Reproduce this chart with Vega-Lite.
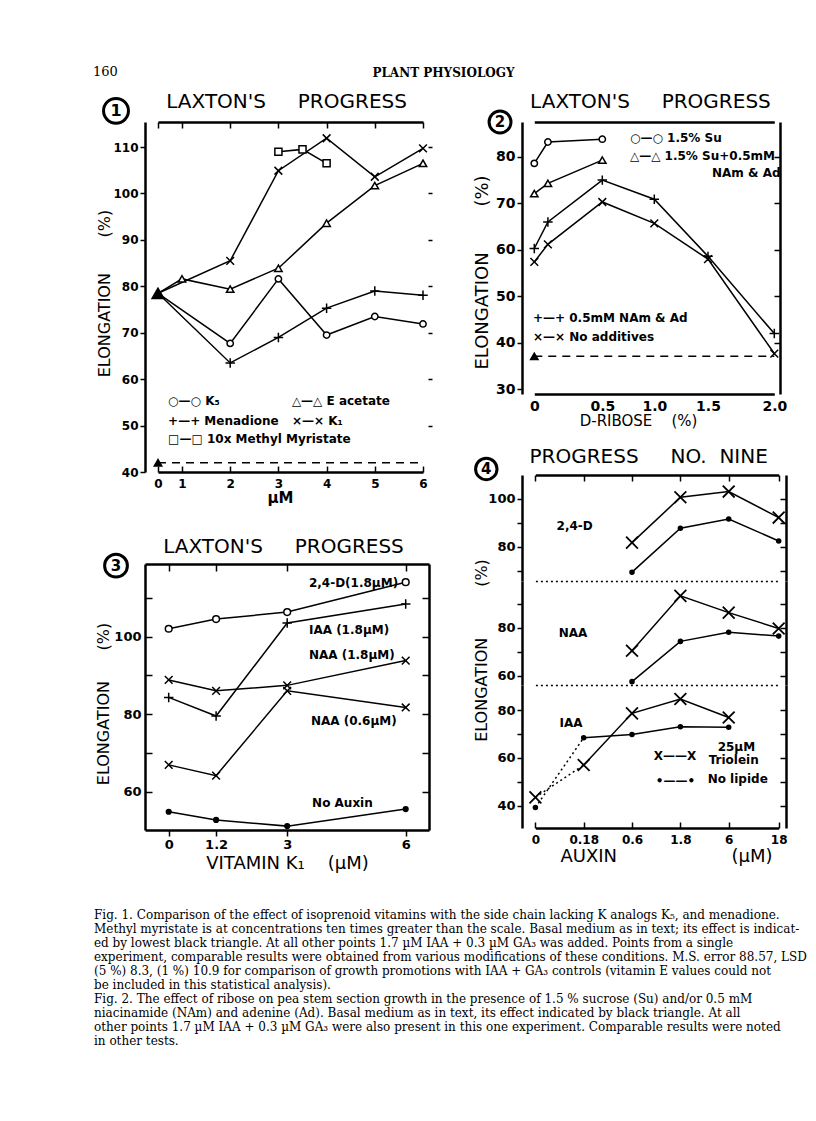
{
  "$schema": "https://vega.github.io/schema/vega-lite/v6.json",
  "autosize": {"type": "none"},
  "padding": {"left": 145, "top": 118, "right": 671, "bottom": 1003},
  "background": "white",
  "config": {
    "font": "DejaVu Sans",
    "view": {"stroke": null},
    "axis": {"grid": false, "labelFlush": false, "labelOverlap": false, "domainColor": "black", "domainWidth": 2.5, "tickColor": "black", "tickWidth": 1.5, "labelColor": "black", "labelFont": "DejaVu Sans", "labelFontWeight": "bold", "labelFontSize": 12, "labelPadding": 2, "titleColor": "black", "titleFont": "DejaVu Sans", "titleFontWeight": "normal", "titleFontSize": 16},
    "title": {"color": "black", "font": "DejaVu Sans"},
    "text": {"color": "black"},
    "point": {"opacity": 1}
  },
  "datasets": {
    "p1": [
      {"series": "K5", "x": 0, "y": 78.5}, {"series": "K5", "x": 2, "y": 67.7}, {"series": "K5", "x": 3, "y": 81.6}, {"series": "K5", "x": 4, "y": 69.5}, {"series": "K5", "x": 5, "y": 73.5}, {"series": "K5", "x": 6, "y": 71.9},
      {"series": "Menadione", "x": 0, "y": 78.5}, {"series": "Menadione", "x": 2, "y": 63.5}, {"series": "Menadione", "x": 3, "y": 69.0}, {"series": "Menadione", "x": 4, "y": 75.3}, {"series": "Menadione", "x": 5, "y": 79.0}, {"series": "Menadione", "x": 6, "y": 78.1},
      {"series": "E acetate", "x": 0, "y": 78.5}, {"series": "E acetate", "x": 1, "y": 81.6}, {"series": "E acetate", "x": 2, "y": 79.4}, {"series": "E acetate", "x": 3, "y": 83.9}, {"series": "E acetate", "x": 4, "y": 93.6}, {"series": "E acetate", "x": 5, "y": 101.7}, {"series": "E acetate", "x": 6, "y": 106.5},
      {"series": "K1", "x": 0, "y": 78.5}, {"series": "K1", "x": 2, "y": 85.5}, {"series": "K1", "x": 3, "y": 104.9}, {"series": "K1", "x": 4, "y": 111.9}, {"series": "K1", "x": 5, "y": 103.6}, {"series": "K1", "x": 6, "y": 109.7},
      {"series": "10x Methyl Myristate", "x": 3, "y": 109.0}, {"series": "10x Methyl Myristate", "x": 3.5, "y": 109.5}, {"series": "10x Methyl Myristate", "x": 4, "y": 106.5},
      {"series": "IAA + GA3 control", "x": 0, "y": 78.5},
      {"series": "Basal medium", "x": 0, "y": 42.0}
    ],
    "p2": [
      {"series": "1.5% Su", "x": 0, "y": 78.6}, {"series": "1.5% Su", "x": 0.1, "y": 83.2}, {"series": "1.5% Su", "x": 0.5, "y": 83.8},
      {"series": "1.5% Su + 0.5mM NAm & Ad", "x": 0, "y": 72.1}, {"series": "1.5% Su + 0.5mM NAm & Ad", "x": 0.1, "y": 74.3}, {"series": "1.5% Su + 0.5mM NAm & Ad", "x": 0.5, "y": 79.3},
      {"series": "0.5mM NAm & Ad", "x": 0, "y": 60.3}, {"series": "0.5mM NAm & Ad", "x": 0.1, "y": 66.0}, {"series": "0.5mM NAm & Ad", "x": 0.5, "y": 75.0}, {"series": "0.5mM NAm & Ad", "x": 1.0, "y": 70.9}, {"series": "0.5mM NAm & Ad", "x": 1.5, "y": 58.6}, {"series": "0.5mM NAm & Ad", "x": 2.0, "y": 42.0},
      {"series": "No additives", "x": 0, "y": 57.4}, {"series": "No additives", "x": 0.1, "y": 61.2}, {"series": "No additives", "x": 0.5, "y": 70.3}, {"series": "No additives", "x": 1.0, "y": 65.7}, {"series": "No additives", "x": 1.5, "y": 58.0}, {"series": "No additives", "x": 2.0, "y": 37.7},
      {"series": "Basal medium", "x": 0, "y": 37.1}
    ],
    "p3": [
      {"series": "2,4-D (1.8 µM)", "x": 0, "y": 102.0}, {"series": "2,4-D (1.8 µM)", "x": 1.2, "y": 104.5}, {"series": "2,4-D (1.8 µM)", "x": 3, "y": 106.3}, {"series": "2,4-D (1.8 µM)", "x": 6, "y": 114.0},
      {"series": "IAA (1.8 µM)", "x": 0, "y": 84.3}, {"series": "IAA (1.8 µM)", "x": 1.2, "y": 79.5}, {"series": "IAA (1.8 µM)", "x": 3, "y": 103.5}, {"series": "IAA (1.8 µM)", "x": 6, "y": 108.4},
      {"series": "NAA (1.8 µM)", "x": 0, "y": 88.8}, {"series": "NAA (1.8 µM)", "x": 1.2, "y": 86.0}, {"series": "NAA (1.8 µM)", "x": 3, "y": 87.4}, {"series": "NAA (1.8 µM)", "x": 6, "y": 93.8},
      {"series": "NAA (0.6 µM)", "x": 0, "y": 66.9}, {"series": "NAA (0.6 µM)", "x": 1.2, "y": 64.1}, {"series": "NAA (0.6 µM)", "x": 3, "y": 86.0}, {"series": "NAA (0.6 µM)", "x": 6, "y": 81.7},
      {"series": "No auxin", "x": 0, "y": 54.8}, {"series": "No auxin", "x": 1.2, "y": 52.7}, {"series": "No auxin", "x": 3, "y": 51.1}, {"series": "No auxin", "x": 6, "y": 55.5}
    ],
    "p4": [
      {"section": "2,4-D", "series": "25 µM triolein", "x": 0.6, "y": 81.7}, {"section": "2,4-D", "series": "25 µM triolein", "x": 1.8, "y": 100.7}, {"section": "2,4-D", "series": "25 µM triolein", "x": 6, "y": 103.1}, {"section": "2,4-D", "series": "25 µM triolein", "x": 18, "y": 92.2},
      {"section": "2,4-D", "series": "No lipide", "x": 0.6, "y": 69.3}, {"section": "2,4-D", "series": "No lipide", "x": 1.8, "y": 87.7}, {"section": "2,4-D", "series": "No lipide", "x": 6, "y": 91.6}, {"section": "2,4-D", "series": "No lipide", "x": 18, "y": 82.4},
      {"section": "NAA", "series": "25 µM triolein", "x": 0.6, "y": 70.4}, {"section": "NAA", "series": "25 µM triolein", "x": 1.8, "y": 93.3}, {"section": "NAA", "series": "25 µM triolein", "x": 6, "y": 86.3}, {"section": "NAA", "series": "25 µM triolein", "x": 18, "y": 79.7},
      {"section": "NAA", "series": "No lipide", "x": 0.6, "y": 57.5}, {"section": "NAA", "series": "No lipide", "x": 1.8, "y": 74.3}, {"section": "NAA", "series": "No lipide", "x": 6, "y": 78.1}, {"section": "NAA", "series": "No lipide", "x": 18, "y": 76.5},
      {"section": "IAA", "series": "25 µM triolein", "x": 0, "y": 43.5}, {"section": "IAA", "series": "25 µM triolein", "x": 0.18, "y": 57.0}, {"section": "IAA", "series": "25 µM triolein", "x": 0.6, "y": 78.6}, {"section": "IAA", "series": "25 µM triolein", "x": 1.8, "y": 84.6}, {"section": "IAA", "series": "25 µM triolein", "x": 6, "y": 76.9},
      {"section": "IAA", "series": "No lipide", "x": 0, "y": 39.3}, {"section": "IAA", "series": "No lipide", "x": 0.18, "y": 68.4}, {"section": "IAA", "series": "No lipide", "x": 0.6, "y": 69.8}, {"section": "IAA", "series": "No lipide", "x": 1.8, "y": 73.0}, {"section": "IAA", "series": "No lipide", "x": 6, "y": 72.8}
    ],
    "notes": [
      {"panel": "1", "text": "○—○ K₅", "x": 0.42, "y": 55.3},
      {"panel": "1", "text": "△—△ E acetate", "x": 3.28, "y": 55.3},
      {"panel": "1", "text": "+—+ Menadione", "x": 0.42, "y": 51.0},
      {"panel": "1", "text": "×—× K₁", "x": 3.28, "y": 51.0},
      {"panel": "1", "text": "□—□ 10x Methyl Myristate", "x": 0.42, "y": 47.1},
      {"panel": "2", "text": "○—○ 1.5% Su", "x": 0.766, "y": 84.0},
      {"panel": "2", "text": "△—△ 1.5% Su+0.5mM", "x": 0.766, "y": 80.15},
      {"panel": "2", "text": "NAm & Ad", "x": 1.53, "y": 76.5},
      {"panel": "2", "text": "+—+ 0.5mM NAm & Ad", "x": -0.01, "y": 45.3},
      {"panel": "2", "text": "×—× No additives", "x": -0.01, "y": 41.2},
      {"panel": "3", "text": "2,4-D(1.8µM)", "x": 3.55, "y": 113.8},
      {"panel": "3", "text": "IAA (1.8µM)", "x": 3.55, "y": 101.7},
      {"panel": "3", "text": "NAA (1.8µM)", "x": 3.55, "y": 95.3},
      {"panel": "3", "text": "NAA (0.6µM)", "x": 3.6, "y": 78.3},
      {"panel": "3", "text": "No Auxin", "x": 3.63, "y": 57.1},
      {"panel": "4a", "text": "2,4-D", "x": 0.079, "y": 88.7},
      {"panel": "4b", "text": "NAA", "x": 0.087, "y": 77.8},
      {"panel": "4c", "text": "IAA", "x": 0.09, "y": 74.6},
      {"panel": "4c", "text": "X——X", "x": 1.138, "y": 60.8},
      {"panel": "4c", "text": "25µM", "x": 5.04, "y": 64.5},
      {"panel": "4c", "text": "Triolein", "x": 4.26, "y": 59.1},
      {"panel": "4c", "text": "•——•", "x": 1.19, "y": 50.4},
      {"panel": "4c", "text": "No lipide", "x": 4.17, "y": 51.2}
    ],
    "titles": [
      {"panel": "1", "text": "LAXTON'S\u00a0\u00a0\u00a0\u00a0\u00a0PROGRESS", "x": 3.17, "y": 119.7},
      {"panel": "2", "text": "LAXTON'S\u00a0\u00a0\u00a0\u00a0\u00a0PROGRESS", "x": 0.963, "y": 91.8},
      {"panel": "3", "text": "LAXTON'S\u00a0\u00a0\u00a0\u00a0\u00a0PROGRESS", "x": 2.906, "y": 123.1},
      {"panel": "4a", "text": "PROGRESS\u00a0\u00a0\u00a0\u00a0\u00a0NO.\u00a0\u00a0NINE", "x": 1.014, "y": 117.6}
    ],
    "nums": [
      {"panel": "1", "label": "1", "x": -1.75, "y": 117.8},
      {"panel": "2", "label": "2", "x": -0.252, "y": 87.5},
      {"panel": "3", "label": "3", "x": -1.334, "y": 118.26},
      {"panel": "4a", "label": "4", "x": -0.183, "y": 112.6}
    ]
  },
  "columns": 2,
  "align": "each",
  "bounds": "flush",
  "spacing": {"row": 3, "column": 93},
  "resolve": {"scale": {"shape": "independent", "size": "independent", "fill": "independent"}},
  "concat": [
    {
      "width": 1, "height": 1,
      "data": {"values": []},
      "mark": "point",
      "title": {"text": "160", "orient": "top", "anchor": "start", "align": "left", "dx": -52, "offset": 33, "baseline": "middle", "font": "DejaVu Serif", "fontSize": 13, "fontWeight": "normal"}
    },
    {
      "width": 2, "height": 1,
      "data": {"values": []},
      "mark": "point",
      "title": {"text": "PLANT PHYSIOLOGY", "orient": "top", "anchor": "middle", "align": "center", "dx": -79.5, "offset": 33, "baseline": "middle", "font": "DejaVu Serif", "fontSize": 12, "fontWeight": "bold"}
    },
    {
      "width": 283, "height": 350,
      "layer": [
        {
          "data": {"name": "p1"},
          "transform": [{"filter": "datum.series != 'IAA + GA3 control' && datum.series != 'Basal medium'"}],
          "mark": {"type": "line", "color": "black", "strokeWidth": 1.5},
          "encoding": {
            "x": {"field": "x", "type": "quantitative", "scale": {"domain": [0, 1, 6], "range": [13, 37, 278], "nice": false, "zero": false},
                  "axis": {"orient": "bottom", "values": [0, 1, 2, 3, 4, 5, 6], "tickSize": -6, "labelPadding": 12, "title": "µM", "titleFontSize": 15, "titleFontWeight": "bold", "titlePadding": 1, "titleX": 135}},
            "y": {"field": "y", "type": "quantitative", "scale": {"domain": [40, 115.4], "nice": false, "zero": false},
                  "axis": {"orient": "left", "values": [40, 50, 60, 70, 80, 90, 100, 110], "tickSize": 5, "title": "ELONGATION\u00a0\u00a0\u00a0\u00a0\u00a0\u00a0\u00a0(%)", "titlePadding": 0, "titleY": 171}},
            "detail": {"field": "series"}
          }
        },
        {
          "data": {"name": "p1"},
          "transform": [{"filter": "datum.x > 0 || datum.series == 'IAA + GA3 control' || datum.series == 'Basal medium'"}],
          "mark": {"type": "point", "stroke": "black", "strokeWidth": 1.5, "opacity": 1},
          "encoding": {
            "x": {"field": "x", "type": "quantitative", "axis": {"orient": "top", "values": [0, 1, 2, 3, 4, 5, 6], "tickSize": -6, "labels": false, "title": null}},
            "y": {"field": "y", "type": "quantitative", "axis": {"orient": "right", "values": [50, 60, 70, 80, 90, 100, 110], "tickSize": 4, "labels": false, "title": null, "domain": false}},
            "shape": {"field": "series", "type": "nominal", "legend": null, "scale": {"domain": ["K5", "Menadione", "E acetate", "K1", "10x Methyl Myristate", "IAA + GA3 control", "Basal medium"], "range": ["circle", "M-1,0L1,0M0,-1L0,1", "triangle-up", "M-1,-1L1,1M-1,1L1,-1", "square", "triangle-up", "triangle-up"]}},
            "size": {"field": "series", "type": "nominal", "legend": null, "scale": {"type": "ordinal", "domain": ["K5", "Menadione", "E acetate", "K1", "10x Methyl Myristate", "IAA + GA3 control", "Basal medium"], "range": [40, 90, 55, 60, 50, 140, 55]}},
            "fill": {"field": "series", "type": "nominal", "legend": null, "scale": {"domain": ["K5", "Menadione", "E acetate", "K1", "10x Methyl Myristate", "IAA + GA3 control", "Basal medium"], "range": ["white", "white", "white", "white", "white", "black", "black"]}}
          }
        },
        {
          "data": {"name": "p1"},
          "transform": [{"filter": "datum.series == 'Basal medium'"}],
          "mark": {"type": "rule", "color": "black", "strokeWidth": 1.5, "strokeDash": [8, 6]},
          "encoding": {"x": {"field": "x", "type": "quantitative", "axis": null}, "x2": {"datum": 6}, "y": {"field": "y", "type": "quantitative", "axis": null}}
        },
        {
          "data": {"name": "notes"},
          "transform": [{"filter": "datum.panel == '1'"}],
          "mark": {"type": "text", "align": "left", "baseline": "middle", "fontSize": 12, "fontWeight": "bold"},
          "encoding": {"x": {"field": "x", "type": "quantitative", "axis": null}, "y": {"field": "y", "type": "quantitative", "axis": null}, "text": {"field": "text"}}
        },
        {
          "data": {"name": "titles"},
          "transform": [{"filter": "datum.panel == '1'"}],
          "mark": {"type": "text", "align": "center", "baseline": "middle", "fontSize": 20},
          "encoding": {"x": {"field": "x", "type": "quantitative", "axis": null}, "y": {"field": "y", "type": "quantitative", "axis": null}, "text": {"field": "text"}}
        },
        {
          "data": {"name": "nums"},
          "transform": [{"filter": "datum.panel == '1'"}],
          "mark": {"type": "point", "shape": "circle", "size": 620, "stroke": "black", "strokeWidth": 3, "fill": "white", "opacity": 1},
          "encoding": {"x": {"field": "x", "type": "quantitative", "axis": null}, "y": {"field": "y", "type": "quantitative", "axis": null}}
        },
        {
          "data": {"name": "nums"},
          "transform": [{"filter": "datum.panel == '1'"}],
          "mark": {"type": "text", "align": "center", "baseline": "middle", "fontSize": 16, "fontWeight": "bold"},
          "encoding": {"x": {"field": "x", "type": "quantitative", "axis": null}, "y": {"field": "y", "type": "quantitative", "axis": null}, "text": {"field": "label"}}
        }
      ],
      "resolve": {"axis": {"x": "independent", "y": "independent"}}
    },
    {
      "width": 258, "height": 272,
      "layer": [
        {
          "data": {"name": "p2"},
          "transform": [{"filter": "datum.series != 'Basal medium'"}],
          "mark": {"type": "line", "color": "black", "strokeWidth": 1.5},
          "encoding": {
            "x": {"field": "x", "type": "quantitative", "scale": {"domain": [0, 0.5, 1, 1.5, 2], "range": [12.3, 80.3, 132.3, 186, 252.3], "nice": false, "zero": false},
                  "axis": {"orient": "bottom", "values": [0, 0.5, 1, 1.5, 2], "labelExpr": "datum.value == 0 ? '0' : format(datum.value, '.1f')", "ticks": false, "labelPadding": 5, "labelFontSize": 14, "title": "D-RIBOSE\u00a0\u00a0\u00a0\u00a0(%)", "titleFontSize": 15, "titlePadding": 0, "titleX": 116}},
            "y": {"field": "y", "type": "quantitative", "scale": {"domain": [29, 87.5], "nice": false, "zero": false},
                  "axis": {"orient": "left", "values": [30, 40, 50, 60, 70, 80], "tickSize": 5, "labelFontSize": 14, "title": "ELONGATION\u00a0\u00a0\u00a0\u00a0\u00a0\u00a0\u00a0\u00a0(%)", "titleFontSize": 18, "titlePadding": 4, "titleY": 150}},
            "detail": {"field": "series"}
          }
        },
        {
          "data": {"name": "p2"},
          "mark": {"type": "point", "stroke": "black", "strokeWidth": 1.5, "opacity": 1},
          "encoding": {
            "x": {"field": "x", "type": "quantitative", "axis": {"orient": "top", "ticks": false, "labels": false, "title": null}},
            "y": {"field": "y", "type": "quantitative", "axis": {"orient": "right", "values": [40, 50, 60, 70, 80], "tickSize": -6, "labels": false, "title": null}},
            "shape": {"field": "series", "type": "nominal", "legend": null, "scale": {"domain": ["1.5% Su", "1.5% Su + 0.5mM NAm & Ad", "0.5mM NAm & Ad", "No additives", "Basal medium"], "range": ["circle", "triangle-up", "M-1,0L1,0M0,-1L0,1", "M-1,-1L1,1M-1,1L1,-1", "triangle-up"]}},
            "size": {"field": "series", "type": "nominal", "legend": null, "scale": {"type": "ordinal", "domain": ["1.5% Su", "1.5% Su + 0.5mM NAm & Ad", "0.5mM NAm & Ad", "No additives", "Basal medium"], "range": [40, 55, 90, 60, 55]}},
            "fill": {"field": "series", "type": "nominal", "legend": null, "scale": {"domain": ["1.5% Su", "1.5% Su + 0.5mM NAm & Ad", "0.5mM NAm & Ad", "No additives", "Basal medium"], "range": ["white", "white", "white", "white", "black"]}}
          }
        },
        {
          "data": {"name": "p2"},
          "transform": [{"filter": "datum.series == 'Basal medium'"}],
          "mark": {"type": "rule", "color": "black", "strokeWidth": 1.5, "strokeDash": [8, 6]},
          "encoding": {"x": {"field": "x", "type": "quantitative", "axis": null}, "x2": {"datum": 2}, "y": {"field": "y", "type": "quantitative", "axis": null}}
        },
        {
          "data": {"name": "notes"},
          "transform": [{"filter": "datum.panel == '2'"}],
          "mark": {"type": "text", "align": "left", "baseline": "middle", "fontSize": 12, "fontWeight": "bold"},
          "encoding": {"x": {"field": "x", "type": "quantitative", "axis": null}, "y": {"field": "y", "type": "quantitative", "axis": null}, "text": {"field": "text"}}
        },
        {
          "data": {"name": "titles"},
          "transform": [{"filter": "datum.panel == '2'"}],
          "mark": {"type": "text", "align": "center", "baseline": "middle", "fontSize": 20},
          "encoding": {"x": {"field": "x", "type": "quantitative", "axis": null}, "y": {"field": "y", "type": "quantitative", "axis": null}, "text": {"field": "text"}}
        },
        {
          "data": {"name": "nums"},
          "transform": [{"filter": "datum.panel == '2'"}],
          "mark": {"type": "point", "shape": "circle", "size": 480, "stroke": "black", "strokeWidth": 3, "fill": "white", "opacity": 1},
          "encoding": {"x": {"field": "x", "type": "quantitative", "axis": null}, "y": {"field": "y", "type": "quantitative", "axis": null}}
        },
        {
          "data": {"name": "nums"},
          "transform": [{"filter": "datum.panel == '2'"}],
          "mark": {"type": "text", "align": "center", "baseline": "middle", "fontSize": 15, "fontWeight": "bold"},
          "encoding": {"x": {"field": "x", "type": "quantitative", "axis": null}, "y": {"field": "y", "type": "quantitative", "axis": null}, "text": {"field": "label"}}
        }
      ],
      "resolve": {"axis": {"x": "independent", "y": "independent"}}
    },
    {
      "width": 284, "height": 355,
      "layer": [
        {
          "data": {"name": "p3"},
          "mark": {"type": "line", "color": "black", "strokeWidth": 1.5},
          "encoding": {
            "x": {"field": "x", "type": "quantitative", "scale": {"domain": [-0.6, 6.59], "nice": false, "zero": false},
                  "axis": {"orient": "bottom", "values": [0, 1.2, 3, 6], "labelExpr": "'' + datum.value", "tickSize": 6, "labelFontSize": 13, "labelPadding": 2, "title": "VITAMIN K₁\u00a0\u00a0\u00a0\u00a0(µM)", "titleFontSize": 18, "titlePadding": 3}},
            "y": {"field": "y", "type": "quantitative", "scale": {"domain": [50.1, 118.7], "range": [355, 89], "nice": false, "zero": false},
                  "axis": {"orient": "left", "values": [60, 70, 80, 90, 100, 110], "labelExpr": "datum.value % 20 == 0 ? datum.label : ''", "tickSize": -7, "labelPadding": 11, "labelFontSize": 13, "title": "ELONGATION\u00a0\u00a0\u00a0\u00a0\u00a0\u00a0(%)", "titlePadding": 2, "titleY": 228.5}},
            "detail": {"field": "series"}
          }
        },
        {
          "data": {"name": "p3"},
          "mark": {"type": "point", "stroke": "black", "strokeWidth": 1.5, "opacity": 1},
          "encoding": {
            "x": {"field": "x", "type": "quantitative", "axis": {"orient": "top", "offset": -89, "values": [0, 1.2, 3, 6], "tickSize": -7, "labels": false, "title": null}},
            "y": {"field": "y", "type": "quantitative", "axis": {"orient": "right", "values": [60, 70, 80, 90, 100, 110], "tickSize": -7, "labels": false, "title": null}},
            "shape": {"field": "series", "type": "nominal", "legend": null, "scale": {"domain": ["2,4-D (1.8 µM)", "IAA (1.8 µM)", "NAA (1.8 µM)", "NAA (0.6 µM)", "No auxin"], "range": ["circle", "M-1,0L1,0M0,-1L0,1", "M-1,-1L1,1M-1,1L1,-1", "M-1,-1L1,1M-1,1L1,-1", "circle"]}},
            "size": {"field": "series", "type": "nominal", "legend": null, "scale": {"type": "ordinal", "domain": ["2,4-D (1.8 µM)", "IAA (1.8 µM)", "NAA (1.8 µM)", "NAA (0.6 µM)", "No auxin"], "range": [45, 90, 60, 60, 22]}},
            "fill": {"field": "series", "type": "nominal", "legend": null, "scale": {"domain": ["2,4-D (1.8 µM)", "IAA (1.8 µM)", "NAA (1.8 µM)", "NAA (0.6 µM)", "No auxin"], "range": ["white", "white", "white", "white", "black"]}}
          }
        },
        {
          "data": {"name": "notes"},
          "transform": [{"filter": "datum.panel == '3'"}],
          "mark": {"type": "text", "align": "left", "baseline": "middle", "fontSize": 12, "fontWeight": "bold"},
          "encoding": {"x": {"field": "x", "type": "quantitative", "axis": null}, "y": {"field": "y", "type": "quantitative", "axis": null}, "text": {"field": "text"}}
        },
        {
          "data": {"name": "titles"},
          "transform": [{"filter": "datum.panel == '3'"}],
          "mark": {"type": "text", "align": "center", "baseline": "middle", "fontSize": 20},
          "encoding": {"x": {"field": "x", "type": "quantitative", "axis": null}, "y": {"field": "y", "type": "quantitative", "axis": null}, "text": {"field": "text"}}
        },
        {
          "data": {"name": "nums"},
          "transform": [{"filter": "datum.panel == '3'"}],
          "mark": {"type": "point", "shape": "circle", "size": 520, "stroke": "black", "strokeWidth": 3, "fill": "white", "opacity": 1},
          "encoding": {"x": {"field": "x", "type": "quantitative", "axis": null}, "y": {"field": "y", "type": "quantitative", "axis": null}}
        },
        {
          "data": {"name": "nums"},
          "transform": [{"filter": "datum.panel == '3'"}],
          "mark": {"type": "text", "align": "center", "baseline": "middle", "fontSize": 15, "fontWeight": "bold"},
          "encoding": {"x": {"field": "x", "type": "quantitative", "axis": null}, "y": {"field": "y", "type": "quantitative", "axis": null}, "text": {"field": "label"}}
        }
      ],
      "resolve": {"axis": {"x": "independent", "y": "independent"}}
    },
    {
      "width": 264, "height": 353,
      "layer": [
        {
          "layer": [
            {
              "data": {"name": "p4"},
              "transform": [{"filter": "datum.section == '2,4-D'"}],
              "mark": {"type": "line", "color": "black", "strokeWidth": 1.5},
              "encoding": {
                "x": {"field": "x", "type": "quantitative", "scale": {"domain": [0, 0.18, 0.6, 1.8, 6, 18], "range": [13.4, 61.7, 110, 158.4, 206.7, 256.7], "nice": false, "zero": false},
                      "axis": {"orient": "top", "values": [0, 0.18, 0.6, 1.8, 6, 18], "tickSize": -6, "labels": false, "title": null}},
                "y": {"field": "y", "type": "quantitative", "scale": {"domain": [65.6, 110.06], "range": [106, 0], "nice": false, "zero": false},
                      "axis": {"orient": "left", "values": [70, 80, 90, 100], "labelExpr": "datum.value % 20 == 0 ? datum.label : ''", "tickSize": 5, "labelFontSize": 13, "title": null}},
                "detail": {"field": "series"}
              }
            },
            {
              "data": {"name": "p4"},
              "transform": [{"filter": "datum.section == '2,4-D'"}],
              "mark": {"type": "point", "stroke": "black", "strokeWidth": 1.8, "opacity": 1},
              "encoding": {
                "x": {"field": "x", "type": "quantitative", "axis": {"orient": "top", "offset": -106, "domainDash": [2, 3], "domainWidth": 1.5, "ticks": false, "labels": false, "title": null}},
                "y": {"field": "y", "type": "quantitative", "axis": {"orient": "right", "values": [70, 80, 90, 100], "tickSize": -6, "labels": false, "title": null}},
                "shape": {"field": "series", "type": "nominal", "legend": null, "scale": {"domain": ["25 µM triolein", "No lipide"], "range": ["M-1,-1L1,1M-1,1L1,-1", "circle"]}},
                "size": {"field": "series", "type": "nominal", "legend": null, "scale": {"type": "ordinal", "domain": ["25 µM triolein", "No lipide"], "range": [140, 14]}},
                "fill": {"field": "series", "type": "nominal", "legend": null, "scale": {"domain": ["25 µM triolein", "No lipide"], "range": ["white", "black"]}}
              }
            },
            {
              "data": {"name": "notes"},
              "transform": [{"filter": "datum.panel == '4a'"}],
              "mark": {"type": "text", "align": "left", "baseline": "middle", "fontSize": 12, "fontWeight": "bold"},
              "encoding": {"x": {"field": "x", "type": "quantitative", "axis": null}, "y": {"field": "y", "type": "quantitative", "axis": null}, "text": {"field": "text"}}
            },
            {
              "data": {"name": "titles"},
              "transform": [{"filter": "datum.panel == '4a'"}],
              "mark": {"type": "text", "align": "center", "baseline": "middle", "fontSize": 20},
              "encoding": {"x": {"field": "x", "type": "quantitative", "axis": null}, "y": {"field": "y", "type": "quantitative", "axis": null}, "text": {"field": "text"}}
            },
            {
              "data": {"name": "nums"},
              "transform": [{"filter": "datum.panel == '4a'"}],
              "mark": {"type": "point", "shape": "circle", "size": 460, "stroke": "black", "strokeWidth": 3, "fill": "white", "opacity": 1},
              "encoding": {"x": {"field": "x", "type": "quantitative", "axis": null}, "y": {"field": "y", "type": "quantitative", "axis": null}}
            },
            {
              "data": {"name": "nums"},
              "transform": [{"filter": "datum.panel == '4a'"}],
              "mark": {"type": "text", "align": "center", "baseline": "middle", "fontSize": 15, "fontWeight": "bold"},
              "encoding": {"x": {"field": "x", "type": "quantitative", "axis": null}, "y": {"field": "y", "type": "quantitative", "axis": null}, "text": {"field": "label"}}
            }
          ],
          "resolve": {"axis": {"x": "independent", "y": "independent"}}
        },
        {
          "layer": [
            {
              "data": {"name": "p4"},
              "transform": [{"filter": "datum.section == 'NAA'"}],
              "mark": {"type": "line", "color": "black", "strokeWidth": 1.5},
              "encoding": {
                "x": {"field": "x", "type": "quantitative", "axis": {"orient": "top", "offset": -210, "domainDash": [2, 3], "domainWidth": 1.5, "ticks": false, "labels": false, "title": null}},
                "y": {"field": "y", "type": "quantitative", "scale": {"domain": [56.1, 99.5], "range": [210, 106], "nice": false, "zero": false},
                      "axis": {"orient": "left", "values": [60, 70, 80, 90], "labelExpr": "datum.value % 20 == 0 ? datum.label : ''", "tickSize": 5, "labelFontSize": 13, "title": "ELONGATION\u00a0\u00a0\u00a0\u00a0\u00a0\u00a0\u00a0\u00a0\u00a0\u00a0(%)", "titlePadding": 7, "titleY": 175}},
                "detail": {"field": "series"}
              }
            },
            {
              "data": {"name": "p4"},
              "transform": [{"filter": "datum.section == 'NAA'"}],
              "mark": {"type": "point", "stroke": "black", "strokeWidth": 1.8, "opacity": 1},
              "encoding": {
                "x": {"field": "x", "type": "quantitative", "axis": null},
                "y": {"field": "y", "type": "quantitative", "axis": {"orient": "right", "values": [60, 70, 80, 90], "tickSize": -6, "labels": false, "title": null}},
                "shape": {"field": "series", "type": "nominal", "legend": null, "scale": {"domain": ["25 µM triolein", "No lipide"], "range": ["M-1,-1L1,1M-1,1L1,-1", "circle"]}},
                "size": {"field": "series", "type": "nominal", "legend": null, "scale": {"type": "ordinal", "domain": ["25 µM triolein", "No lipide"], "range": [140, 14]}},
                "fill": {"field": "series", "type": "nominal", "legend": null, "scale": {"domain": ["25 µM triolein", "No lipide"], "range": ["white", "black"]}}
              }
            },
            {
              "data": {"name": "notes"},
              "transform": [{"filter": "datum.panel == '4b'"}],
              "mark": {"type": "text", "align": "left", "baseline": "middle", "fontSize": 12, "fontWeight": "bold"},
              "encoding": {"x": {"field": "x", "type": "quantitative", "axis": null}, "y": {"field": "y", "type": "quantitative", "axis": null}, "text": {"field": "text"}}
            }
          ],
          "resolve": {"axis": {"x": "independent", "y": "independent"}}
        },
        {
          "layer": [
            {
              "data": {"name": "p4"},
              "transform": [{"filter": "datum.section == 'IAA' && datum.x >= 0.18"}],
              "mark": {"type": "line", "color": "black", "strokeWidth": 1.5},
              "encoding": {
                "x": {"field": "x", "type": "quantitative", "axis": {"orient": "bottom", "values": [0, 0.18, 0.6, 1.8, 6, 18], "labelExpr": "'' + datum.value", "tickSize": -6, "labelPadding": 12, "labelFontSize": 12, "title": "AUXIN\u00a0\u00a0\u00a0\u00a0\u00a0\u00a0\u00a0\u00a0\u00a0\u00a0\u00a0\u00a0\u00a0\u00a0\u00a0\u00a0\u00a0\u00a0\u00a0\u00a0(µM)", "titleFontSize": 18, "titlePadding": 2, "titleX": 144}},
                "y": {"field": "y", "type": "quantitative", "scale": {"domain": [30.7, 90.45], "range": [353, 210], "nice": false, "zero": false},
                      "axis": {"orient": "left", "values": [40, 50, 60, 70, 80], "labelExpr": "datum.value % 20 == 0 ? datum.label : ''", "tickSize": 5, "labelFontSize": 13, "title": null}},
                "detail": {"field": "series"}
              }
            },
            {
              "data": {"name": "p4"},
              "transform": [{"filter": "datum.section == 'IAA' && datum.x <= 0.18"}],
              "mark": {"type": "line", "color": "black", "strokeWidth": 1.5, "strokeDash": [2, 3]},
              "encoding": {
                "x": {"field": "x", "type": "quantitative", "axis": null},
                "y": {"field": "y", "type": "quantitative", "axis": null},
                "detail": {"field": "series"}
              }
            },
            {
              "data": {"name": "p4"},
              "transform": [{"filter": "datum.section == 'IAA'"}],
              "mark": {"type": "point", "stroke": "black", "strokeWidth": 1.8, "opacity": 1},
              "encoding": {
                "x": {"field": "x", "type": "quantitative", "axis": null},
                "y": {"field": "y", "type": "quantitative", "axis": {"orient": "right", "values": [40, 50, 60, 70, 80], "tickSize": -6, "labels": false, "title": null}},
                "shape": {"field": "series", "type": "nominal", "legend": null, "scale": {"domain": ["25 µM triolein", "No lipide"], "range": ["M-1,-1L1,1M-1,1L1,-1", "circle"]}},
                "size": {"field": "series", "type": "nominal", "legend": null, "scale": {"type": "ordinal", "domain": ["25 µM triolein", "No lipide"], "range": [140, 14]}},
                "fill": {"field": "series", "type": "nominal", "legend": null, "scale": {"domain": ["25 µM triolein", "No lipide"], "range": ["white", "black"]}}
              }
            },
            {
              "data": {"name": "notes"},
              "transform": [{"filter": "datum.panel == '4c'"}],
              "mark": {"type": "text", "align": "left", "baseline": "middle", "fontSize": 12, "fontWeight": "bold"},
              "encoding": {"x": {"field": "x", "type": "quantitative", "axis": null}, "y": {"field": "y", "type": "quantitative", "axis": null}, "text": {"field": "text"}}
            }
          ],
          "resolve": {"axis": {"x": "independent", "y": "independent"}}
        }
      ],
      "resolve": {"scale": {"y": "independent"}, "axis": {"x": "independent", "y": "independent"}}
    },
    {
      "width": 1, "height": 1,
      "data": {"values": []},
      "mark": "point",
      "title": {
        "text": [
          "\u2003\u2002Fig. 1.  Comparison of the effect of isoprenoid vitamins with the side chain lacking K analogs K₅, and menadione.",
          "Methyl myristate is at concentrations ten times greater than the scale.  Basal medium as in text; its effect is indicat-",
          "ed by lowest black triangle.  At all other points 1.7 µM IAA + 0.3 µM GA₃ was added.  Points from a single",
          "experiment, comparable results were obtained from various modifications of these conditions.  M.S. error 88.57, LSD",
          "(5 %) 8.3, (1 %) 10.9 for comparison of growth promotions with IAA + GA₃ controls (vitamin E values could not",
          "be included in this statistical analysis).",
          "\u2003\u2002Fig. 2.  The effect of ribose on pea stem section growth in the presence of 1.5 % sucrose (Su) and/or 0.5 mM",
          "niacinamide (NAm) and adenine (Ad).  Basal medium as in text, its effect indicated by black triangle.  At all",
          "other points 1.7 µM IAA + 0.3 µM GA₃ were also present in this one experiment.  Comparable results were noted",
          "in other tests."
        ],
        "orient": "bottom", "anchor": "start", "align": "left", "dx": -51, "offset": 76, "baseline": "top",
        "font": "DejaVu Serif", "fontSize": 12, "fontWeight": "normal", "lineHeight": 14
      }
    }
  ]
}
